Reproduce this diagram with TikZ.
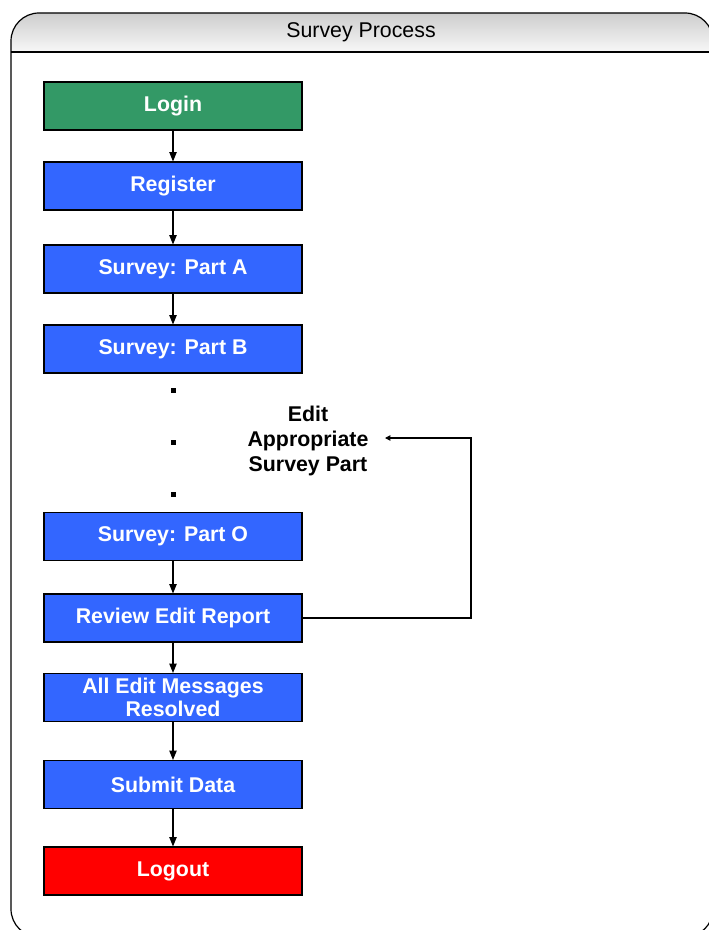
\documentclass[tikz,border=0pt]{standalone}
\usepackage{fontspec}
\setmainfont{Liberation Sans}
\usetikzlibrary{arrows.meta}
\definecolor{boxblue}{HTML}{3366FF}
\definecolor{boxgreen}{HTML}{339966}
\definecolor{boxred}{HTML}{FF0000}
\begin{document}
\begin{tikzpicture}[x=0.75pt,y=-0.75pt,
  stepbox/.style={draw=black, line width=0.8pt, fill=boxblue, minimum width=193.5pt, minimum height=36pt, inner sep=0pt, text=white, font=\fontsize{16}{17.2}\selectfont\bfseries, align=center},
  flow/.style={line width=0.8pt, -{Triangle[length=7pt,width=5.5pt]}},
  backflow/.style={line width=0.8pt, -{Triangle[length=4pt,width=4pt]}},
  dotmark/.style={fill=black, minimum size=3.75pt, inner sep=0pt},
  lbl/.style={font=\fontsize{16}{18.7}\selectfont\bfseries, align=center, inner sep=0pt}]
\useasboundingbox (0,0) rectangle (709,930);
\begin{scope}
  \clip (0,0) rectangle (709,930);
  \begin{scope}
    \clip[rounded corners=21pt] (11,500) -- (11,13) -- (713,13) -- (713,937) -- (11,937) -- cycle;
    \shade[top color=black!25, bottom color=black!3] (0,0) rectangle (720,52);
  \end{scope}
  \draw[line width=0.9pt, rounded corners=21pt] (11,500) -- (11,13) -- (713,13) -- (713,937) -- (11,937) -- cycle;
  \draw[line width=0.9pt] (11,52) -- (713,52);
\end{scope}
\node[font=\fontsize{16}{17}\selectfont] (title) at (361,32) {Survey Process};

\node[stepbox, fill=boxgreen] (login) at (173,106) {Login};
\node[stepbox] (register) at (173,186) {Register};
\node[stepbox] (parta) at (173,269) {Survey: Part A};
\node[stepbox] (partb) at (173,349) {Survey: Part B};
\node[dotmark] (d1) at (173,390) {};
\node[dotmark] (d2) at (173,442) {};
\node[dotmark] (d3) at (173,494) {};
\node[stepbox] (parto) at (173,536.5) {Survey: Part O};
\node[stepbox] (review) at (173,618) {Review Edit Report};
\node[stepbox] (resolved) at (173,697.5) {All Edit Messages\\Resolved};
\node[stepbox] (submit) at (173,784.5) {Submit Data};
\node[stepbox, fill=boxred] (logout) at (173,871) {Logout};

\node[lbl] (edit) at (308,441) {Edit\\Appropriate\\Survey Part};

\draw[flow] (login) -- (register);
\draw[flow] (register) -- (parta);
\draw[flow] (parta) -- (partb);
\draw[flow] (parto) -- (review);
\draw[flow] (review) -- (resolved);
\draw[flow] (resolved) -- (submit);
\draw[flow] (submit) -- (logout);

\coordinate (turn) at (471,438);
\coordinate (tip) at (385,438);
\draw[backflow] (review.east) -| (turn) -- (tip);
\end{tikzpicture}
\end{document}
